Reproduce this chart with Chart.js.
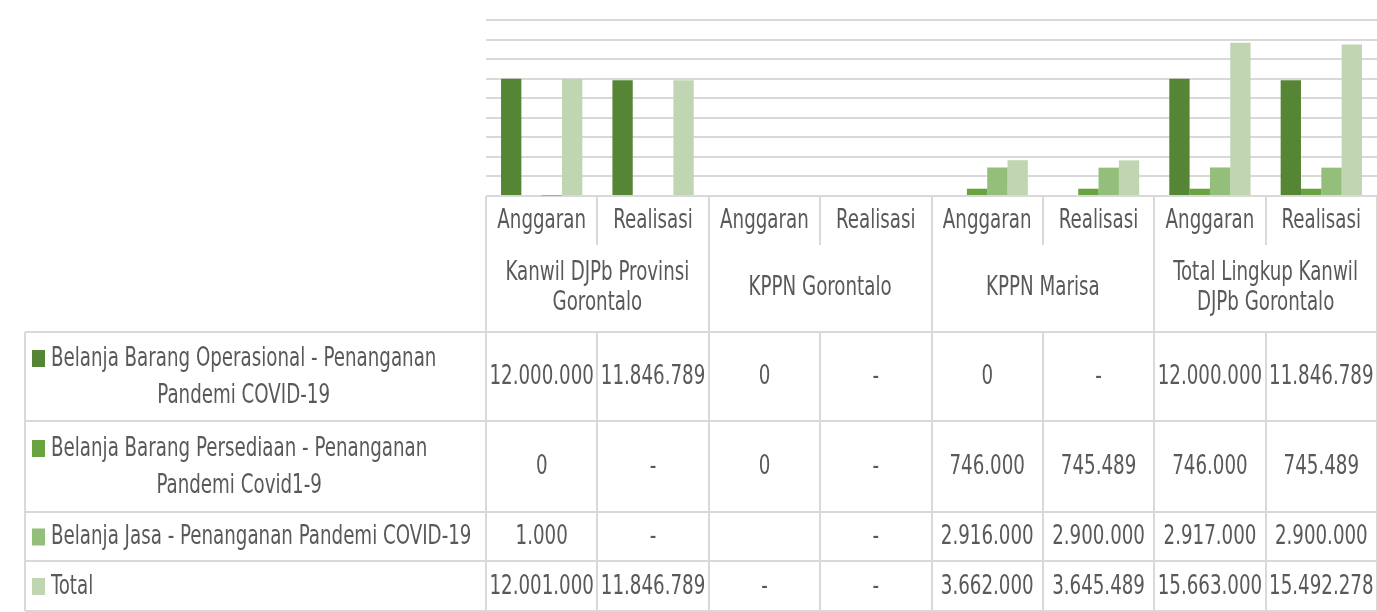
<!DOCTYPE html>
<html lang="id">
<head>
  <meta charset="utf-8"/>
  <title>Belanja Penanganan Pandemi COVID-19</title>
  <script src="https://cdn.jsdelivr.net/npm/chart.js"></script>
  <style>
    html, body { margin: 0; padding: 0; background: #fff; }
    #chart { width: 1377px; height: 612px; }
  </style>
</head>
<body>
<div id="chart">
  <canvas id="my_chart"></canvas>
</div>
<script>
var categories = ['Anggaran', 'Realisasi', 'Anggaran', 'Realisasi', 'Anggaran', 'Realisasi', 'Anggaran', 'Realisasi'];
var groupLabels = [
  ['Kanwil DJPb Provinsi', 'Gorontalo'],
  ['KPPN Gorontalo'],
  ['KPPN Marisa'],
  ['Total Lingkup Kanwil', 'DJPb Gorontalo']
];
var seriesNames = [
  ['Belanja Barang Operasional - Penanganan', 'Pandemi COVID-19'],
  ['Belanja Barang Persediaan - Penanganan', 'Pandemi Covid1-9'],
  ['Belanja Jasa - Penanganan Pandemi COVID-19'],
  ['Total']
];
// '-' = nol yang tampil sebagai strip, null = sel kosong
var operasional = [12000000, 11846789, 0, '-', 0, '-', 12000000, 11846789];
var persediaan  = [0, '-', 0, '-', 746000, 745489, 746000, 745489];
var jasa        = [1000, '-', null, '-', 2916000, 2900000, 2917000, 2900000];
var total       = [12001000, 11846789, '-', '-', 3662000, 3645489, 15663000, 15492278];
var yMax = 18000000;
var yStep = 2000000;

const COLORS = ['#578536', '#69a441', '#94bf7b', '#c0d6b3'];
const GRID = '#d9d9d9';
const TEXT = '#595959';
const FONT = '"Liberation Sans Narrow", "DejaVu Sans Condensed", sans-serif';
const SX = 0.78; // squeeze text horizontally like the original

var seriesData = [operasional, persediaan, jasa, total];

function fmt (v) {
  if (v === null) return '';
  if (v === '-') return '-';
  return String(v).replace(/\B(?=(\d{3})+(?!\d))/g, '.');
}

function text (ctx, t, x, y) {
  ctx.save();
  ctx.translate(x, y);
  ctx.scale(SX, 1);
  ctx.fillText(t, 0, 0);
  ctx.restore();
}

// table drawn under the plot, columns follow the x scale
const dataTable = {
  id: 'dataTable',
  afterDraw (chart) {
    const ctx = chart.ctx;
    const xs = chart.scales.x;
    const base = chart.chartArea.bottom;
    const n = categories.length;
    const colW = (xs.right - xs.left) / n;
    const left = xs.left;
    const right = xs.right;
    const legendLeft = 25;
    const catBottom = base + 49;
    const groupBottom = base + 136;
    const rowLines = [groupBottom, base + 225, base + 316, base + 365, base + 415];

    ctx.save();
    ctx.strokeStyle = GRID;
    ctx.lineWidth = 2;
    ctx.beginPath();
    for (let i = 0; i <= n; i++) {
      const x = Math.round(left + i * colW);
      ctx.moveTo(x, base);
      ctx.lineTo(x, i % 2 === 0 ? groupBottom : catBottom);
      ctx.moveTo(x, groupBottom);
      ctx.lineTo(x, rowLines[rowLines.length - 1]);
    }
    ctx.moveTo(legendLeft, groupBottom);
    ctx.lineTo(legendLeft, rowLines[rowLines.length - 1]);
    rowLines.forEach(y => {
      ctx.moveTo(legendLeft, y);
      ctx.lineTo(right, y);
    });
    ctx.stroke();

    ctx.fillStyle = TEXT;
    ctx.font = '26px ' + FONT;
    ctx.textAlign = 'center';
    ctx.textBaseline = 'middle';

    // category row
    categories.forEach((c, i) => {
      text(ctx, c, xs.getPixelForValue(i), (base + catBottom) / 2 + 1);
    });
    // group row
    groupLabels.forEach((lines, g) => {
      const cx = left + (g * 2 + 1) * colW;
      const cy = (catBottom + groupBottom) / 2;
      const lh = 30;
      lines.forEach((t, k) => {
        text(ctx, t, cx, cy + (k - (lines.length - 1) / 2) * lh);
      });
    });

    // series rows
    seriesData.forEach((vals, s) => {
      const top = rowLines[s];
      const bot = rowLines[s + 1];
      const cy = (top + bot) / 2 + 1;
      vals.forEach((v, i) => {
        text(ctx, fmt(v), xs.getPixelForValue(i), cy);
      });
      const lines = seriesNames[s];
      const lh = 37;
      const blockW = Math.max(...lines.map(t => ctx.measureText(t).width)) * SX;
      const tx = 51;
      lines.forEach((t, k) => {
        const y = cy + (k - (lines.length - 1) / 2) * lh;
        text(ctx, t, tx + blockW / 2, y);
      });
      const y0 = cy - (lines.length - 1) / 2 * lh;
      ctx.fillStyle = COLORS[s];
      ctx.fillRect(32, y0 - 9, 13, 17);
      ctx.fillStyle = TEXT;
    });
    ctx.restore();
  }
};

window.onload = function () {
  const data = {
    labels: categories,
    datasets: seriesData.map((vals, s) => ({
      label: seriesNames[s].join(' '),
      data: vals.map(v => typeof v === 'number' ? v : null),
      backgroundColor: COLORS[s],
      borderWidth: 0
    }))
  };

  const config = {
    type: 'bar',
    data: data,
    options: {
      responsive: true,
      maintainAspectRatio: false,
      animation: false,
      layout: {
        padding: { left: 486, top: 20, right: 0, bottom: 416 }
      },
      plugins: {
        legend: { display: false },
        tooltip: { enabled: false }
      },
      datasets: {
        bar: { categoryPercentage: 0.73, barPercentage: 1 }
      },
      scales: {
        x: {
          display: false
        },
        y: {
          min: 0,
          max: yMax,
          ticks: { display: false, stepSize: yStep },
          border: { display: false },
          grid: { color: GRID, lineWidth: 2, drawTicks: false },
          afterFit: (scale) => { scale.width = 0; }
        }
      }
    },
    plugins: [dataTable]
  };

  const ctx = document.getElementById('my_chart').getContext('2d');
  new Chart(ctx, config);
};
</script>
</body>
</html>
